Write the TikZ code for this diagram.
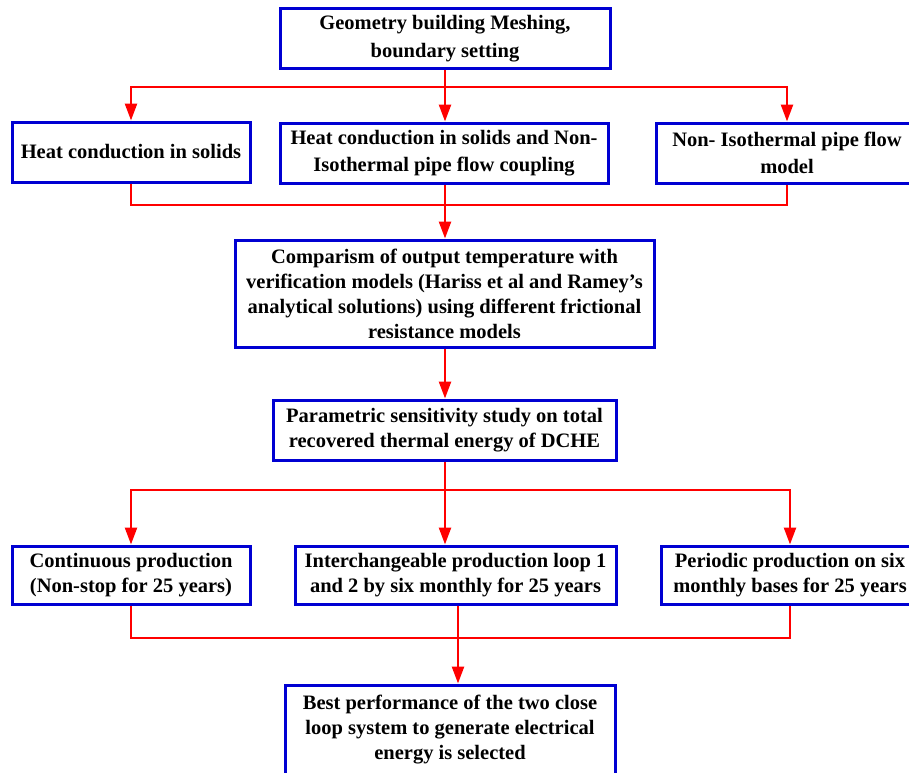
\documentclass[tikz,border=0pt]{standalone}
\usepackage{fontspec}
\setmainfont{Liberation Serif}
\usetikzlibrary{arrows.meta}
\definecolor{boxblue}{RGB}{0,0,210}
\definecolor{linered}{RGB}{255,0,0}
\begin{document}
\begin{tikzpicture}[x=1pt,y=-1pt,
  box/.style={draw=boxblue,line width=3pt,align=center,inner sep=0pt,
    font=\fontsize{20.5}{25}\selectfont\bfseries},
  widebox/.style={box,font=\fontsize{20.5}{27.5}\selectfont\bfseries},
  conn/.style={draw=linered,line width=2.5pt},
  arr/.style={conn,-{Triangle[length=17pt,width=12pt]}}]
\useasboundingbox (0,0) rectangle (909,772);
\fill[white] (0,0) rectangle (909,772);
% nodes
\node[widebox,minimum width=330pt,minimum height=60pt] (top) at (445,38.5)
  {Geometry building Meshing,\\boundary setting};
\node[widebox,minimum width=238pt,minimum height=60pt] (r2a) at (131,152)
  {Heat conduction in solids};
\node[widebox,minimum width=328pt,minimum height=60pt] (r2b) at (444,153)
  {Heat conduction in solids and Non-\\Isothermal pipe flow coupling};
\node[widebox,minimum width=262pt,minimum height=60pt] (r2c) at (787,153)
  {Non- Isothermal pipe flow\\model};
\node[box,minimum width=419pt,minimum height=107pt] (cmp) at (444.5,293.5)
  {Comparism of output temperature with\\verification models (Hariss et al and Ramey's\\analytical solutions) using different frictional\\resistance models};
\node[box,minimum width=343pt,minimum height=60pt] (par) at (444.5,430)
  {Parametric sensitivity study on total\\recovered thermal energy of DCHE};
\node[box,minimum width=238pt,minimum height=58pt] (r4a) at (131,575)
  {Continuous production\\(Non-stop for 25 years)};
\node[box,minimum width=321pt,minimum height=58pt] (r4b) at (455.5,575)
  {Interchangeable production loop 1\\and 2 by six monthly for 25 years};
\node[box,minimum width=258pt,minimum height=58pt] (r4c) at (790,575)
  {Periodic production on six\\monthly bases for 25 years};
\node[box,minimum width=330pt,minimum height=90pt] (best) at (450,730)
  {Best performance of the two close\\loop system to generate electrical\\energy is selected};
% junction coordinates
\coordinate (j1) at (445,87);
\coordinate (j2) at (445,205);
\coordinate (j3) at (445,490);
\coordinate (j4) at (458,638);
% connectors
\draw[arr] (top.south) -- (r2b.north -| top.south);
\draw[arr] (j1) -| (r2a.north);
\draw[arr] (j1) -| (r2c.north);
\draw[conn] (r2a.south) |- (j2) -| (r2c.south);
\draw[arr] (r2b.south -| j2) -- (cmp.north -| j2);
\draw[arr] (cmp.south -| j2) -- (par.north -| j2);
\draw[arr] (par.south -| j3) -- (r4b.north -| j3);
\draw[arr] (j3) -| (r4a.north);
\draw[arr] (j3) -| (r4c.north);
\draw[conn] (r4a.south) |- (j4) -| (r4c.south);
\draw[conn] (r4b.south -| j4) -- (j4);
\draw[arr] (j4) -- (best.north -| j4);
\end{tikzpicture}
\end{document}
